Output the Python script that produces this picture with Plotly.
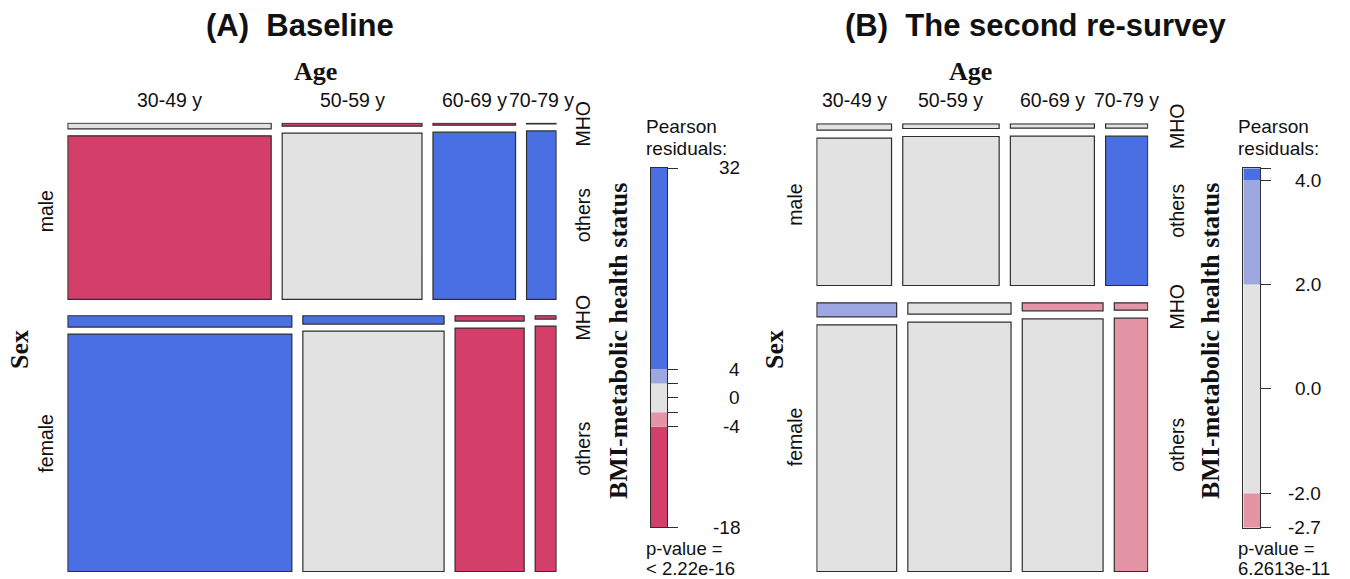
import plotly.graph_objects as go

# ---------------- data ----------------
ages = ["30-49 y", "50-59 y", "60-69 y", "70-79 y"]
sexes = ["male", "female"]
statuses = ["MHO", "others"]

# Panel A: baseline (counts by sex x age x BMI-metabolic status)
a_male_mho = [601, 222, 87, 11]
a_male_others = [17620, 12304, 7310, 2645]
a_female_mho = [1328, 615, 192, 36]
a_female_others = [27798, 17743, 8789, 2699]
# Pearson residuals (panel A)
a_res_male_mho = [1.2, -5.5, -6.0, -4.5]
a_res_male_others = [-18.0, 1.0, 22.0, 14.0]
a_res_female_mho = [12.0, 6.0, -7.0, -4.8]
a_res_female_others = [32.0, 0.5, -16.0, -11.0]
a_legend_breaks = [-18, -4, -2, 2, 4, 32]
a_legend_ticks = [32, 4, 2, 0, -2, -4, -18]
a_legend_label_vals = [32, 4, 0, -4, -18]
a_legend_label_text = ["32", "4", "0", "-4", "-18"]
a_pvalue = "< 2.22e-16"

# Panel B: second re-survey
b_male_mho = [98, 93, 76, 38]
b_male_others = [2263, 2952, 2578, 1295]
b_female_mho = [225, 237, 130, 50]
b_female_others = [3965, 5179, 4112, 1709]
b_res_male_mho = [0.3, -0.5, 0.8, 1.2]
b_res_male_others = [-1.0, -0.6, 0.4, 4.23]
b_res_female_mho = [2.6, 1.1, -2.2, -2.1]
b_res_female_others = [0.7, 0.2, -0.9, -2.66]
b_legend_breaks = [-2.66, -2, 2, 4, 4.23]
b_legend_ticks = [4.23, 4, 2, 0, -2, -2.66]
b_legend_label_vals = [4, 2, 0, -2, -2.66]
b_legend_label_text = ["4.0", "2.0", "0.0", "-2.0", "-2.7"]
b_pvalue = "6.2613e-11"

# ---------------- style ----------------
FIG_W, FIG_H = 1350, 579
BLUE, LBLUE, GREY, LRED, RED = "#4A6FE3", "#9DA8E2", "#E2E2E2", "#E495A5", "#D33F6A"
EDGE = "#2E2E2E"
SANS = "Liberation Sans, Arial, sans-serif"
SERIF = "Liberation Serif, Times New Roman, serif"
TXT = "#111111"


def shade(r):
    if r > 4:
        return BLUE
    if r > 2:
        return LBLUE
    if r < -4:
        return RED
    if r < -2:
        return LRED
    return GREY


def px(x):
    return x / FIG_W


def py(y):
    return 1 - y / FIG_H


def mosaic(mho, others, res_mho, res_others, W, H, sex_gap, age_gap, inner_gap):
    """mho/others/res: lists per sex (male, female) of per-age lists."""
    x0, x1, y0, y1 = 0.5, W - 0.5, 0.5, H - 0.5
    sex_tot = [sum(mho[s]) + sum(others[s]) for s in range(2)]
    N = sum(sex_tot)
    avail_h = (y1 - y0) - sex_gap
    tiles = []
    sex_centers = []
    col_centers = [[], []]
    last_col = [[], []]
    y = y0
    for s in range(2):
        hs = avail_h * sex_tot[s] / N
        sex_centers.append(y + hs / 2)
        avail_w = (x1 - x0) - age_gap * (len(ages) - 1)
        x = x0
        for j in range(len(ages)):
            ct = mho[s][j] + others[s][j]
            w = avail_w * ct / sex_tot[s]
            ia = hs - inner_gap
            hm = ia * mho[s][j] / ct
            ho = ia * others[s][j] / ct
            tiles.append((x + w / 2, w, y, hm, shade(res_mho[s][j])))
            tiles.append((x + w / 2, w, y + hs - ho, ho, shade(res_others[s][j])))
            col_centers[s].append(x + w / 2)
            if j == len(ages) - 1:
                last_col[s] = [y + hm / 2, y + hs - ho / 2]
            x += w + age_gap
        y += hs + sex_gap
    return tiles, sex_centers, col_centers, last_col


fig = go.Figure()
annotations = []


def ann(text, x, y, size, family=SANS, bold=False, angle=0, xanchor="center",
        yanchor="middle", xref="paper", yref="paper"):
    annotations.append(dict(
        text=("<b>%s</b>" % text) if bold else text, x=x, y=y, xref=xref, yref=yref,
        showarrow=False, textangle=angle, xanchor=xanchor, yanchor=yanchor,
        font=dict(family=family, size=size, color=TXT)))


panels = [
    dict(mho=[a_male_mho, a_female_mho], oth=[a_male_others, a_female_others],
         rm=[a_res_male_mho, a_res_female_mho], ro=[a_res_male_others, a_res_female_others],
         box=(67.3, 556.7, 122.7, 572.0), gaps=(16.3, 11.0, 7.0),
         lbox=(650.7, 667.3, 168.0, 527.3), breaks=a_legend_breaks, ticks=a_legend_ticks,
         lvals=a_legend_label_vals, ltext=a_legend_label_text, lright=742, pval=a_pvalue,
         title="(A)\u00a0\u00a0Baseline", tx=300, agex=315, sexx=19,
         sidex=583, bmix=618, mfx=46, pearx=644, ax=("x", "y", "x2", "y2")),
    dict(mho=[b_male_mho, b_female_mho], oth=[b_male_others, b_female_others],
         rm=[b_res_male_mho, b_res_female_mho], ro=[b_res_male_others, b_res_female_others],
         box=(816.3, 1148.3, 123.3, 572.0), gaps=(17.3, 11.2, 8.0),
         lbox=(1243.3, 1260.0, 168.3, 527.7), breaks=b_legend_breaks, ticks=b_legend_ticks,
         lvals=b_legend_label_vals, ltext=b_legend_label_text, lright=1323, pval=b_pvalue,
         title="(B)\u00a0\u00a0The second re-survey", tx=1035, agex=970, sexx=774,
         sidex=1177, bmix=1210, mfx=795, pearx=1236, ax=("x3", "y3", "x4", "y4")),
]

layout_axes = {}
for p in panels:
    bx0, bx1, by0, by1 = p["box"]
    W, H = bx1 - bx0, by1 - by0
    tiles, sex_c, col_c, last_col = mosaic(p["mho"], p["oth"], p["rm"], p["ro"], W, H, *p["gaps"])
    xa, ya, xl, yl = p["ax"]
    fig.add_trace(go.Bar(
        x=[t[0] for t in tiles], width=[t[1] for t in tiles], base=[t[2] for t in tiles],
        y=[t[3] for t in tiles], marker=dict(color=[t[4] for t in tiles],
                                             line=dict(color=EDGE, width=1.2)),
        xaxis=xa, yaxis=ya, hoverinfo="skip", showlegend=False))
    layout_axes["xaxis" + xa[1:]] = dict(domain=[px(bx0), px(bx1)], range=[0, W], visible=False,
                                        anchor=ya, fixedrange=True)
    layout_axes["yaxis" + ya[1:]] = dict(domain=[py(by1), py(by0)], range=[H, 0], visible=False,
                                        anchor=xa, fixedrange=True)

    # legend (shading scale)
    lx0, lx1, ly0, ly1 = p["lbox"]
    br = p["breaks"]
    fig.add_trace(go.Bar(
        x=[0.5] * (len(br) - 1), width=[1] * (len(br) - 1), base=br[:-1],
        y=[br[i + 1] - br[i] for i in range(len(br) - 1)],
        marker=dict(color=[shade((br[i] + br[i + 1]) / 2) for i in range(len(br) - 1)],
                    line=dict(width=0)),
        xaxis=xl, yaxis=yl, hoverinfo="skip", showlegend=False))
    layout_axes["xaxis" + xl[1:]] = dict(domain=[px(lx0), px(lx1)], range=[0, 1], showline=True,
                                        mirror=True, linecolor=EDGE, linewidth=1, showgrid=False,
                                        zeroline=False, showticklabels=False, ticks="", anchor=yl,
                                        fixedrange=True)
    layout_axes["yaxis" + yl[1:]] = dict(domain=[py(ly1), py(ly0)], range=[br[0], br[-1]],
                                        side="right", showline=True, mirror=True, linecolor=EDGE,
                                        linewidth=1, ticks="outside", tickvals=p["ticks"],
                                        ticklen=10, tickcolor=EDGE, tickwidth=1,
                                        showticklabels=False, showgrid=False, zeroline=False,
                                        anchor=xl, fixedrange=True)
    for v, t in zip(p["lvals"], p["ltext"]):
        ann(t, px(p["lright"]), v, 19, xanchor="right", yref=yl)
    ann("Pearson", px(p["pearx"]), py(127), 19, xanchor="left")
    ann("residuals:", px(p["pearx"]), py(148), 19, xanchor="left")
    ann("p-value =", px(p["pearx"]), py(548.5), 18.5, xanchor="left")
    ann(p["pval"], px(p["pearx"]), py(568.5), 18.5, xanchor="left")

    # titles and variable names
    ann(p["title"], px(p["tx"]), py(25), 31, bold=True)
    ann("Age", px(p["agex"]), py(71), 26, family=SERIF, bold=True)
    ann("Sex", px(p["sexx"]), py(350), 26, family=SERIF, bold=True, angle=-90)
    ann("BMI-metabolic health status", px(p["bmix"]), py(341), 26, family=SERIF, bold=True,
        angle=-90)
    for j, a in enumerate(ages):
        ann(a, col_c[0][j], py(100), 19.5, xref=xa)
    for s, sx in enumerate(sexes):
        ann(sx, px(p["mfx"]), sex_c[s], 19.5, angle=-90, yref=ya)
        for k, st in enumerate(statuses):
            ann(st, px(p["sidex"]), last_col[s][k], 19.5, angle=-90, yref=ya)

fig.update_layout(
    width=FIG_W, height=FIG_H, margin=dict(l=0, r=0, t=0, b=0),
    paper_bgcolor="white", plot_bgcolor="white", barmode="overlay", showlegend=False,
    annotations=annotations, **layout_axes)

fig.write_html("out.html", config={"displayModeBar": False, "staticPlot": True},
               post_script="document.body.style.margin='0';"
                           "document.body.style.overflow='hidden';")
